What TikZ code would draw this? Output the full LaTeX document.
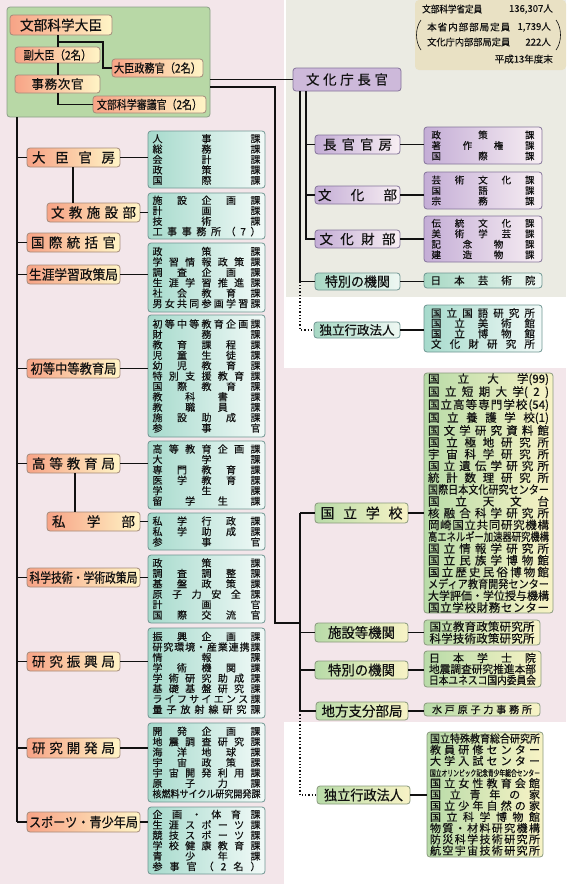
\documentclass[tikz,border=0pt]{standalone}
\usepackage{fontspec}
\setmainfont{Noto Sans CJK JP}[FakeBold=0.4]
\usepackage{graphicx}
\definecolor{bgpink}{HTML}{F3E6EA}
\definecolor{bggrey}{HTML}{EBEBE3}
\definecolor{gbox}{HTML}{B8D8A6}
\definecolor{gboxd}{HTML}{8C9E88}
\definecolor{salm}{HTML}{F7A386}
\definecolor{pyel}{HTML}{FFF5C6}
\definecolor{obrd}{HTML}{A48A7A}
\definecolor{tealL}{HTML}{A6DACC}
\definecolor{tealR}{HTML}{F2FAF8}
\definecolor{tbrd}{HTML}{6F9692}
\definecolor{lavL}{HTML}{C4ADD6}
\definecolor{lavR}{HTML}{F8EFF3}
\definecolor{lbrd}{HTML}{84749A}
\definecolor{lavbox}{HTML}{CDB9DA}
\definecolor{gyL}{HTML}{B8DBA8}
\definecolor{gyR}{HTML}{F8F3C6}
\definecolor{gybrd}{HTML}{8A9A7E}
\definecolor{infobg}{HTML}{E9E1C4}
\definecolor{ink}{HTML}{111111}
\definecolor{mintL}{HTML}{A7D8C4}
\definecolor{mintR}{HTML}{EFF8F3}
\newlength\natw
\def\distend{DISTEND}
\def\rowsend{ROWSEND}
\def\distA#1{#1\distB}
\def\distB#1{\ifx\distend#1\relax\else\hfil#1\expandafter\distB\fi}
\newcommand\dist[1]{\distA#1\distend}
\newcommand\dl[2]{\settowidth\natw{\ignorespaces#2\unskip}%
  \ifdim\natw>#1\relax\resizebox{#1}{\height}{\ignorespaces#2\unskip}%
  \else\makebox[#1][s]{\dist{#2}}\fi}
\def\rows#1{\rowsA#1,\rowsend,}
\def\rowsA#1,{\dl{\linewidth}{#1}\rowsB}
\def\rowsB#1,{\ifx\rowsend#1\else\\\dl{\linewidth}{#1}\expandafter\rowsB\fi}
\newcommand\lab[1]{\dl{\linewidth}{#1}}
\tikzset{
  base/.style={rounded corners=3pt, inner xsep=0pt, inner ysep=0pt, line width=0.8pt, text=ink},
  onode/.style={base, draw=obrd, left color=salm, right color=pyel, font=\fontsize{13.5}{14}\selectfont},
  tlst/.style={base, draw=tbrd, left color=tealL, right color=tealR, font=\fontsize{10}{10.4}\selectfont},
  lnode/.style={base, draw=lbrd, left color=lavL, right color=lavR, font=\fontsize{13.5}{14}\selectfont},
  llst/.style={base, draw=lbrd, left color=lavL, right color=lavR, font=\fontsize{9.5}{10.5}\selectfont},
  mnode/.style={base, draw=tbrd, left color=mintL, right color=mintR, font=\fontsize{13.5}{14}\selectfont},
  gnode/.style={base, draw=gybrd, left color=gyL, right color=gyR, font=\fontsize{14}{14}\selectfont},
  glst/.style={base, draw=gybrd, left color=gyL, right color=gyR, font=\fontsize{11.5}{11.8}\selectfont},
  conn/.style={draw=ink, line width=1.5pt},
  dotconn/.style={draw=ink, line width=1.3pt, dotted},
  itxt/.style={inner sep=0pt, text=ink, font=\fontsize{9.5}{10}\selectfont}
}
\begin{document}
\begin{tikzpicture}[x=1pt,y=-1pt]
\useasboundingbox (0,0) rectangle (566,884);
% backgrounds
\fill[bgpink] (0,0) rectangle (284,884);
\fill[bggrey] (286,0) rectangle (566,297);
\fill[white] (284,297) rectangle (566,368);
\fill[bgpink] (284,368) rectangle (566,722);
\fill[white] (284,722) rectangle (566,884);
% info box
\fill[infobg, rounded corners=4pt] (415,0) rectangle (566,70);
\node[itxt, anchor=west] (i1) at (422,9) {\dl{60pt}{文部科学省定員}};
\node[itxt, anchor=east] (i1n) at (553,9) {136,307人};
\node[itxt, anchor=west] (i2) at (427,27) {\dl{83pt}{本省内部部局定員}};
\node[itxt, anchor=east] (i2n) at (551,27) {1,739人};
\node[itxt, anchor=west] (i3) at (427,42) {\dl{83pt}{文化庁内部部局定員}};
\node[itxt, anchor=east] (i3n) at (551,42) {222人};
\node[itxt, anchor=east] (i4) at (553,59) {平成13年度末};
\draw[ink, line width=0.6pt] (421,20) .. controls (415,28) and (415,42) .. (421,50);
\draw[ink, line width=0.6pt] (556,20) .. controls (562,28) and (562,42) .. (556,50);
% minister box
\node[base, draw=gboxd, fill=gbox, minimum width=203pt, minimum height=110pt] (minbox) at (108.5,62) {};
\node[onode, font=\fontsize{14}{14}\selectfont, minimum width=102pt, minimum height=20pt, text width=82pt] (daijin) at (61,25) {\lab{文部科学大臣}};
\node[onode, font=\fontsize{12}{12}\selectfont, minimum width=85pt, minimum height=16pt, text width=68pt] (fuku) at (57.5,55) {\lab{副大臣（2名）}};
\node[onode, font=\fontsize{12}{12}\selectfont, minimum width=91pt, minimum height=18pt, text width=87pt] (seimu) at (157.5,68) {\lab{大臣政務官（2名）}};
\node[onode, font=\fontsize{12.5}{12.5}\selectfont, minimum width=85pt, minimum height=18pt, text width=52pt] (jimu) at (57.5,84) {\lab{事務次官}};
\node[onode, font=\fontsize{12}{12}\selectfont, minimum width=113pt, minimum height=17pt, text width=105pt] (shingi) at (149.5,104.5) {\lab{文部科学審議官（2名）}};
% left column nodes
\node[onode, minimum width=93pt, minimum height=19pt, text width=83pt] (kanbo) at (73.5,157.5) {\lab{大臣官房}};
\node[onode, minimum width=93pt, minimum height=19pt, text width=85pt] (bunkyo) at (93.5,212.5) {\lab{文教施設部}};
\node[onode, minimum width=93pt, minimum height=19pt, text width=85pt] (kokusai) at (73.5,242.5) {\lab{国際統括官}};
\node[onode, minimum width=93pt, minimum height=19pt, text width=89pt] (shogai) at (73.5,274.5) {\lab{生涯学習政策局}};
\node[onode, minimum width=93pt, minimum height=19pt, text width=86pt] (shochu) at (73.5,368.5) {\lab{初等中等教育局}};
\node[onode, minimum width=93pt, minimum height=19pt, text width=83pt] (koto) at (73.5,463.5) {\lab{高等教育局}};
\node[onode, minimum width=93pt, minimum height=19pt, text width=83pt] (shigaku) at (93.5,521.5) {\lab{私学部}};
\node[onode, minimum width=113pt, minimum height=19pt, text width=108pt] (kagaku) at (83.5,577.5) {\lab{科学技術・学術政策局}};
\node[onode, minimum width=93pt, minimum height=19pt, text width=83pt] (shinko) at (73.5,661.5) {\lab{研究振興局}};
\node[onode, minimum width=93pt, minimum height=20pt, text width=83pt] (kaihatsu) at (73.5,748) {\lab{研究開発局}};
\node[onode, minimum width=113pt, minimum height=20pt, text width=109pt] (sports) at (83.5,822) {\lab{スポーツ・青少年局}};
% left lists
\node[tlst, minimum width=117pt, minimum height=57pt, text width=108pt] (l1) at (206.5,159.5) {\rows{人事課,総務課,会計課,政策課,国際課}};
\node[tlst, minimum width=117pt, minimum height=46pt, text width=108pt] (l2) at (206.5,216) {\rows{施設企画課,計画課,技術課,工事事務所（7）}};
\node[tlst, minimum width=117pt, minimum height=69pt, text width=108pt] (l3) at (206.5,277.5) {\rows{政策課,学習情報政策課,調査企画課,生涯学習推進課,社会教育課,男女共同参画学習課}};
\node[tlst, minimum width=117pt, minimum height=122pt, text width=108pt] (l4) at (206.5,376) {\rows{初等中等教育企画課,財務課,教育課程課,児童生徒課,幼児教育課,特別支援教育課,国際教育課,教科書課,教職員課,施設助成課,参事官}};
\node[tlst, minimum width=117pt, minimum height=68pt, text width=108pt] (l5) at (206.5,475) {\rows{高等教育企画課,大学課,専門教育課,医学教育課,学生課,留学生課}};
\node[tlst, minimum width=117pt, minimum height=37pt, text width=108pt] (l6) at (206.5,531.5) {\rows{私学行政課,私学助成課,参事官}};
\node[tlst, minimum width=117pt, minimum height=68pt, text width=108pt] (l7) at (206.5,589) {\rows{政策課,調査調整課,基盤政策課,原子力安全課,計画官,国際交流官}};
\node[tlst, minimum width=117pt, minimum height=90pt, text width=108pt] (l8) at (206.5,673) {\rows{振興企画課,研究環境・産業連携課,情報課,学術機関課,学術研究助成課,基礎基盤研究課,ライフサイエンス課,量子放射線研究課}};
\node[tlst, minimum width=117pt, minimum height=79pt, text width=108pt] (l9) at (206.5,762.5) {\rows{開発企画課,地震調査研究課,海洋地球課,宇宙政策課,宇宙開発利用課,原子力課,核燃料サイクル研究開発課}};
\node[tlst, minimum width=117pt, minimum height=67pt, text width=108pt] (l10) at (206.5,840.5) {\rows{企画・体育課,生涯スポーツ課,競技スポーツ課,学校健康教育課,青少年課,参事官（2名）}};
% culture agency
\node[base, draw=lbrd, fill=lavbox, font=\fontsize{13.5}{14}\selectfont, minimum width=108pt, minimum height=23pt, text width=82pt] (chokan) at (347,79.5) {\lab{文化庁長官}};
\node[lnode, minimum width=85pt, minimum height=19pt, text width=69pt] (kanbo2) at (357.5,144.5) {\lab{長官官房}};
\node[lnode, minimum width=85pt, minimum height=18pt, text width=79pt] (bunka) at (357.5,195) {\lab{文化部}};
\node[lnode, minimum width=85pt, minimum height=18pt, text width=76pt] (bunkazai) at (357.5,239) {\lab{文化財部}};
\node[mnode, minimum width=85pt, minimum height=17pt, text width=65pt] (tokuC) at (357.5,281.5) {\lab{特別の機関}};
\node[mnode, font=\fontsize{12.5}{13}\selectfont, minimum width=86pt, minimum height=16pt, text width=75pt] (dokuC) at (357,330) {\lab{独立行政法人}};
\node[llst, minimum width=118pt, minimum height=37pt, text width=103pt] (la) at (483,145.5) {\rows{政策課,著作権課,国際課}};
\node[llst, minimum width=118pt, minimum height=37pt, text width=103pt] (lb) at (483,190.5) {\rows{芸術文化課,国語課,宗務課}};
\node[llst, minimum width=118pt, minimum height=46pt, text width=103pt] (lc) at (483,239) {\rows{伝統文化課,美術学芸課,記念物課,建造物課}};
\node[base, draw=tbrd, left color=mintL, right color=mintR, font=\fontsize{10.5}{10.5}\selectfont, minimum width=118pt, minimum height=15pt, text width=105pt] (ld) at (483,280.5) {\lab{日本芸術院}};
\node[tlst, font=\fontsize{10.5}{10.3}\selectfont, minimum width=118pt, minimum height=47pt, text width=104pt] (le) at (483,328.5) {\rows{国立国語研究所,国立美術館,国立博物館,文化財研究所}};
% right side (national schools etc.)
\node[gnode, minimum width=93pt, minimum height=20pt, text width=82pt] (kokuritsu) at (361.5,513) {\lab{国立学校}};
\node[gnode, minimum width=93pt, minimum height=19pt, text width=67pt] (shisetsu) at (361.5,632.5) {\lab{施設等機関}};
\node[gnode, minimum width=93pt, minimum height=18pt, text width=67pt] (tokuR) at (361.5,670) {\lab{特別の機関}};
\node[gnode, minimum width=92pt, minimum height=18pt, text width=81pt] (chiho) at (362,711) {\lab{地方支分部局}};
\node[gnode, minimum width=93pt, minimum height=18pt, text width=79pt] (dokuR) at (363.5,795) {\lab{独立行政法人}};
\node[glst, minimum width=129pt, minimum height=240pt, text width=121pt] (lf) at (488.5,493) {\rows{国立大{学(99)},国立短期大{学(}2),国立高等専門学校{(54)},国立養護学{校(1)},国文学研究資料館,国立極地研究所,宇宙科学研究所,国立遺伝学研究所,統計数理研究所,国際日本文化研究センター,国立天文台,核融合科学研究所,岡崎国立共同研究機構,高エネルギー加速器研究機構,国立情報学研究所,国立民族学博物館,国立歴史民俗博物館,メディア教育開発センター,大学評価・学位授与機構,国立学校財務センター}};
\node[glst, minimum width=116pt, minimum height=25pt, text width=105pt] (lg) at (482,632.5) {\rows{国立教育政策研究所,科学技術政策研究所}};
\node[glst, font=\fontsize{11}{11}\selectfont, minimum width=117pt, minimum height=36pt, text width=107pt] (lh) at (482.5,669) {\rows{日本学士院,地震調査研究推進本部,日本ユネスコ国内委員会}};
\node[glst, font=\fontsize{10}{10}\selectfont, minimum width=116pt, minimum height=13pt, text width=100pt] (li) at (482,709.5) {\lab{水戸原子力事務所}};
\node[glst, font=\fontsize{11}{11.2}\selectfont, minimum width=116pt, minimum height=125pt, text width=110pt] (lj) at (485,794.5) {\rows{国立特殊教育総合研究所,教員研修センター,大学入試センター,{\fontsize{8.5}{8.5}\selectfont 国立オリンピック記念青少年総合センター},国立女性教育会館,国立青年の家,国立少年自然の家,国立科学博物館,物質・材料研究機構,防災科学技術研究所,航空宇宙技術研究所}};
% bus coordinates
\coordinate (gx) at (58,0);
\coordinate (gx2) at (103,0);
\coordinate (g42) at (58,42);
\coordinate (LB) at (17,0);
\coordinate (bx1) at (73,0);
\coordinate (bx2) at (75,0);
\coordinate (CB1) at (300,0);
\coordinate (CB2) at (306,0);
\coordinate (MB) at (275,0);
\coordinate (RB) at (300,0);
\coordinate (m2) at (210,87);
\coordinate (join) at (300,623);
% minister box connectors
\draw[conn] (gx |- daijin.south) -- (gx |- fuku.north);
\draw[conn] (g42) -- (gx2 |- g42) -- (gx2 |- seimu) -- (seimu.west);
\draw[conn] (gx |- fuku.south) -- (gx |- jimu.north);
\draw[conn] (gx |- jimu.south) -- (gx |- shingi) -- (shingi.west);
% to culture agency
\draw[conn] (minbox.east |- chokan) -- (chokan.west);
% left bus
\draw[conn] (LB |- minbox.south) -- (LB |- sports);
\foreach \n in {kanbo,kokusai,shogai,shochu,koto,kagaku,shinko,kaihatsu,sports}{
  \draw[conn] (LB |- \n) -- (\n.west);
}
\draw[conn] (bx1 |- kanbo.south) -- (bx1 |- bunkyo.north);
\draw[conn] (bx2 |- koto.south) -- (bx2 |- shigaku.north);
% node to list
\draw[conn] (kanbo.east) -- (kanbo.east -| l1.west);
\draw[conn] (bunkyo.east) -- (bunkyo.east -| l2.west);
\draw[conn] (shogai.east) -- (shogai.east -| l3.west);
\draw[conn] (shochu.east) -- (shochu.east -| l4.west);
\draw[conn] (koto.east) -- (koto.east -| l5.west);
\draw[conn] (shigaku.east) -- (shigaku.east -| l6.west);
\draw[conn] (kagaku.east) -- (kagaku.east -| l7.west);
\draw[conn] (shinko.east) -- (shinko.east -| l8.west);
\draw[conn] (kaihatsu.east) -- (kaihatsu.east -| l9.west);
\draw[conn] (sports.east) -- (sports.east -| l10.west);
% culture buses
\draw[conn] (CB2 |- chokan.south) -- (CB2 |- bunkazai) -- (bunkazai.west);
\draw[conn] (CB2 |- kanbo2) -- (kanbo2.west);
\draw[conn] (CB2 |- bunka) -- (bunka.west);
\draw[conn] (CB1 |- chokan.south) -- (CB1 |- tokuC) -- (tokuC.west);
\draw[dotconn] (CB1 |- tokuC) -- (CB1 |- dokuC) -- (dokuC.west);
\draw[conn] (kanbo2.east) -- (kanbo2.east -| la.west);
\draw[conn] (bunka.east) -- (bunka.east -| lb.west);
\draw[conn] (bunkazai.east) -- (bunkazai.east -| lc.west);
\draw[conn] (tokuC.east) -- (tokuC.east -| ld.west);
\draw[conn] (dokuC.east) -- (dokuC.east -| le.west);
% right bus
\draw[conn] (m2) -- (MB |- m2) -- (MB |- join) -- (join);
\draw[conn] (RB |- kokuritsu) -- (RB |- chiho);
\foreach \n in {kokuritsu,shisetsu,tokuR,chiho}{
  \draw[conn] (RB |- \n) -- (\n.west);
}
\draw[dotconn] (RB |- chiho) -- (RB |- dokuR) -- (dokuR.west);
\draw[conn] (kokuritsu.east) -- (kokuritsu.east -| lf.west);
\draw[conn] (shisetsu.east) -- (shisetsu.east -| lg.west);
\draw[conn] (tokuR.east) -- (tokuR.east -| lh.west);
\draw[conn] (chiho.east) -- (chiho.east -| li.west);
\draw[conn] (dokuR.east) -- (dokuR.east -| lj.west);
\end{tikzpicture}
\end{document}
